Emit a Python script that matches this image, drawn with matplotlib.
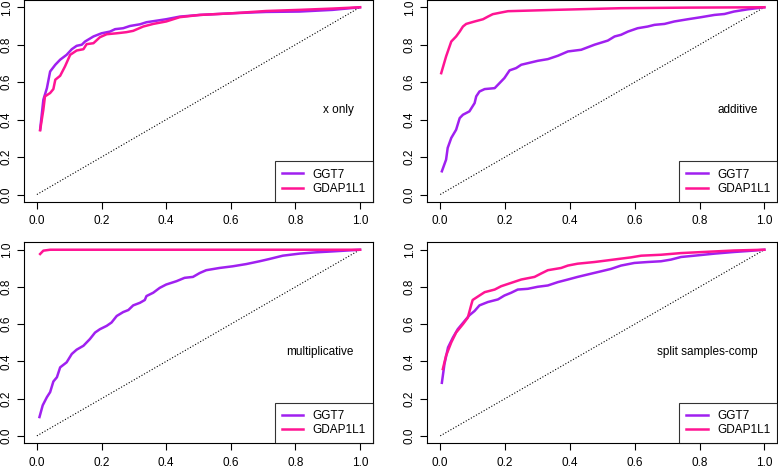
import matplotlib
matplotlib.use("Agg")
import matplotlib.pyplot as plt

plt.rcParams['font.family'] = ['Liberation Sans', 'DejaVu Sans']

# ROC curves (false positive rate, true positive rate)
xonly_ggt7_fpr = [0.01, 0.02, 0.031, 0.041, 0.057, 0.072, 0.092, 0.108, 0.123, 0.139, 0.149, 0.175, 0.2,
                  0.226, 0.242, 0.267, 0.288, 0.319, 0.339, 0.40, 0.442, 0.504, 0.606, 0.709, 0.812, 0.915, 1.0]
xonly_ggt7_tpr = [0.346, 0.506, 0.568, 0.657, 0.693, 0.72, 0.746, 0.776, 0.794, 0.80, 0.817, 0.844, 0.861,
                  0.87, 0.883, 0.888, 0.90, 0.909, 0.92, 0.936, 0.95, 0.959, 0.968, 0.975, 0.977, 0.986, 1.0]
xonly_gdap_fpr = [0.01, 0.02, 0.025, 0.041, 0.051, 0.057, 0.072, 0.087, 0.103, 0.123, 0.144, 0.154, 0.175,
                  0.195, 0.216, 0.247, 0.277, 0.298, 0.329, 0.36, 0.40, 0.442, 0.504, 0.606, 0.709, 0.812, 0.915, 1.0]
xonly_gdap_tpr = [0.343, 0.453, 0.524, 0.542, 0.563, 0.613, 0.634, 0.684, 0.746, 0.769, 0.776, 0.803, 0.808,
                  0.84, 0.856, 0.861, 0.867, 0.874, 0.897, 0.911, 0.924, 0.947, 0.959, 0.968, 0.98, 0.986, 0.993, 1.0]

add_ggt7_fpr = [0.005, 0.018, 0.023, 0.034, 0.049, 0.06, 0.07, 0.09, 0.106, 0.111, 0.121, 0.137, 0.168, 0.183,
                0.198, 0.214, 0.234, 0.25, 0.301, 0.332, 0.363, 0.394, 0.435, 0.476, 0.517, 0.538, 0.558, 0.579,
                0.609, 0.64, 0.661, 0.692, 0.722, 0.764, 0.805, 0.846, 0.877, 0.906, 0.949, 1.0]
add_ggt7_tpr = [0.124, 0.186, 0.249, 0.302, 0.346, 0.408, 0.426, 0.444, 0.488, 0.524, 0.55, 0.563, 0.568, 0.595,
                0.622, 0.663, 0.675, 0.693, 0.714, 0.723, 0.741, 0.764, 0.773, 0.80, 0.822, 0.844, 0.853, 0.87,
                0.888, 0.897, 0.906, 0.911, 0.924, 0.936, 0.947, 0.959, 0.964, 0.977, 0.989, 1.0]
add_gdap_fpr = [0.003, 0.018, 0.034, 0.049, 0.06, 0.07, 0.08, 0.106, 0.132, 0.147, 0.162, 0.188, 0.209,
                0.353, 0.558, 0.764, 1.0]
add_gdap_tpr = [0.648, 0.737, 0.817, 0.844, 0.87, 0.897, 0.911, 0.924, 0.936, 0.95, 0.963, 0.972, 0.979,
                0.986, 0.995, 0.998, 1.0]

mult_ggt7_fpr = [0.008, 0.018, 0.031, 0.041, 0.051, 0.062, 0.072, 0.092, 0.108, 0.123, 0.144, 0.164, 0.18,
                 0.195, 0.216, 0.231, 0.247, 0.267, 0.283, 0.298, 0.319, 0.334, 0.339, 0.36, 0.38, 0.40, 0.432,
                 0.457, 0.483, 0.504, 0.524, 0.565, 0.606, 0.648, 0.689, 0.719, 0.761, 0.812, 0.863, 0.915, 1.0]
mult_ggt7_tpr = [0.101, 0.164, 0.208, 0.235, 0.292, 0.315, 0.368, 0.395, 0.44, 0.463, 0.484, 0.52, 0.555,
                 0.573, 0.591, 0.609, 0.644, 0.665, 0.676, 0.701, 0.715, 0.73, 0.751, 0.769, 0.795, 0.813, 0.831,
                 0.849, 0.854, 0.875, 0.89, 0.902, 0.911, 0.923, 0.938, 0.95, 0.968, 0.979, 0.986, 0.991, 1.0]
mult_gdap_fpr = [0.01, 0.02, 0.041, 1.0]
mult_gdap_tpr = [0.977, 0.995, 1.0, 1.0]

split_ggt7_fpr = [0.005, 0.013, 0.024, 0.039, 0.054, 0.075, 0.09, 0.106, 0.121, 0.147, 0.178, 0.198, 0.219,
                  0.239, 0.27, 0.301, 0.332, 0.363, 0.394, 0.424, 0.455, 0.496, 0.527, 0.558, 0.599, 0.64,
                  0.681, 0.712, 0.743, 0.784, 0.846, 0.907, 0.949, 1.0]
split_ggt7_tpr = [0.285, 0.386, 0.475, 0.528, 0.573, 0.617, 0.648, 0.671, 0.701, 0.719, 0.733, 0.754, 0.769,
                  0.786, 0.79, 0.801, 0.808, 0.826, 0.84, 0.854, 0.867, 0.884, 0.897, 0.915, 0.929, 0.934,
                  0.938, 0.947, 0.961, 0.968, 0.979, 0.988, 0.993, 1.0]
split_gdap_fpr = [0.008, 0.018, 0.034, 0.049, 0.07, 0.085, 0.096, 0.10, 0.121, 0.137, 0.168, 0.188, 0.219,
                  0.25, 0.291, 0.311, 0.332, 0.373, 0.394, 0.424, 0.476, 0.517, 0.548, 0.589, 0.62, 0.681,
                  0.743, 0.825, 0.907, 1.0]
split_gdap_tpr = [0.359, 0.431, 0.502, 0.555, 0.60, 0.635, 0.706, 0.73, 0.754, 0.772, 0.786, 0.804, 0.822,
                  0.84, 0.854, 0.872, 0.89, 0.902, 0.915, 0.925, 0.934, 0.943, 0.95, 0.959, 0.968, 0.973,
                  0.982, 0.989, 0.996, 1.0]

panel_titles = ["x only", "additive", "multiplicative", "split samples-comp"]
series_names = ["GGT7", "GDAP1L1"]
series_colors = ["#A020F0", "#FF1493"]
ticks = [0.0, 0.2, 0.4, 0.6, 0.8, 1.0]

panels = [
    (xonly_ggt7_fpr, xonly_ggt7_tpr, xonly_gdap_fpr, xonly_gdap_tpr),
    (add_ggt7_fpr, add_ggt7_tpr, add_gdap_fpr, add_gdap_tpr),
    (mult_ggt7_fpr, mult_ggt7_tpr, mult_gdap_fpr, mult_gdap_tpr),
    (split_ggt7_fpr, split_ggt7_tpr, split_gdap_fpr, split_gdap_tpr),
]

# axes boxes in figure fractions (left, bottom, width, height)
boxes = [
    [0.0308, 0.5693, 0.4486, 0.4312],
    [0.5492, 0.5693, 0.4499, 0.4312],
    [0.0308, 0.0548, 0.4486, 0.4286],
    [0.5492, 0.0548, 0.4499, 0.4286],
]

fs = 8.5
fig = plt.figure(figsize=(7.78, 4.69), dpi=100)

for i in range(4):
    ax = fig.add_axes(boxes[i])
    gx, gy, px, py = panels[i]
    ax.plot([0, 1], [0, 1], color="black", linestyle=":", linewidth=0.8)
    ax.plot(gx, gy, color=series_colors[0], linewidth=1.8, label=series_names[0])
    ax.plot(px, py, color=series_colors[1], linewidth=1.8, label=series_names[1])
    ax.set_xlim(-0.04, 1.04)
    ax.set_ylim(-0.04, 1.04)
    ax.set_xticks(ticks)
    ax.set_yticks(ticks)
    ax.set_xticklabels(["%.1f" % t for t in ticks], fontsize=fs)
    ax.set_yticklabels(["%.1f" % t for t in ticks], fontsize=fs, rotation=90, va="center")
    ax.tick_params(direction="out", length=5.2, width=0.8)
    ax.tick_params(axis="y", pad=3)
    ax.tick_params(axis="x", pad=4.5)
    for s in ax.spines.values():
        s.set_linewidth(0.8)
    ax.text(0.98, 0.45, panel_titles[i], ha="right", va="center", fontsize=fs)
    leg = ax.legend(loc="lower right", fontsize=fs, frameon=True, fancybox=False,
                    borderaxespad=0, handlelength=1.8, handletextpad=0.8,
                    borderpad=0.6, labelspacing=0.2)
    leg.get_frame().set_edgecolor("black")
    leg.get_frame().set_linewidth(0.8)

fig.savefig("out.png", dpi=100)
